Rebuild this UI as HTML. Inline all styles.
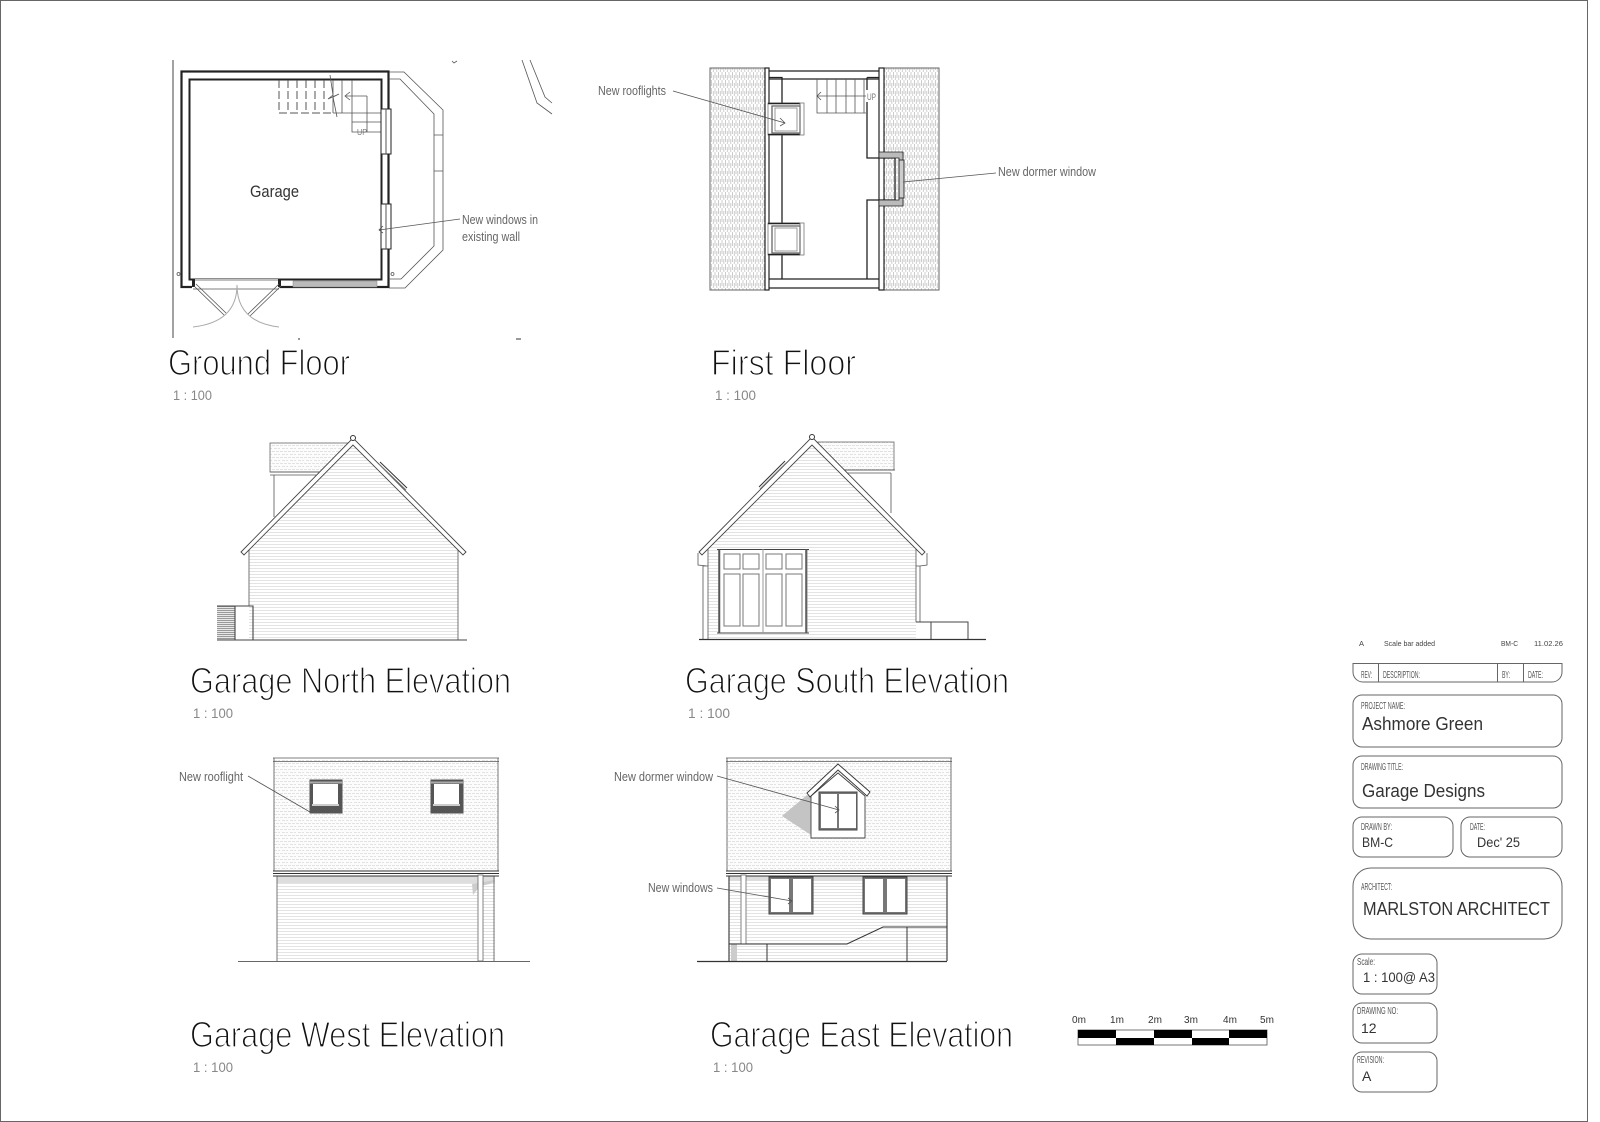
<!DOCTYPE html>
<html><head><meta charset="utf-8"><style>html,body{margin:0;padding:0;background:#fff}svg{display:block}
text{font-family:"Liberation Sans",sans-serif}
.t{font-size:36px;fill:#111;stroke:#fff;stroke-width:1.3px}
.s{font-size:14px;fill:#888}
.n{font-size:13px;fill:#666}
.l{font-size:10px;fill:#555}
.v{font-size:18px;fill:#333}
.c{font-size:14px;fill:#333}
.g{fill:none;stroke:#555;stroke-width:.8}
.b{fill:#fff;stroke:#666;stroke-width:1}
</style></head><body>
<svg xmlns="http://www.w3.org/2000/svg" width="1600" height="1122" viewBox="0 0 1600 1122">
<defs>
<pattern id="sid" width="3" height="3" patternUnits="userSpaceOnUse"><rect width="3" height="3" fill="#fff"/><rect y="1" width="3" height="1" fill="#e3e3e3"/></pattern>
<pattern id="tile" width="8" height="6" patternUnits="userSpaceOnUse"><rect width="8" height="6" fill="#fcfcfc"/><path d="M0 1.500h3M4 1.500h3M2 4.500h3M6 4.500h2" stroke="#e2e2e2" stroke-width="1"/></pattern>
<pattern id="roof" width="3.500" height="8" patternUnits="userSpaceOnUse"><rect width="3.500" height="8" fill="#fff"/><path d="M1 0v6M2.800 3v5" stroke="#c8c8c8" stroke-width=".9"/></pattern>
<pattern id="hat" width="3" height="2" patternUnits="userSpaceOnUse"><rect width="3" height="2" fill="#e8e8e8"/><rect width="3" height="1" fill="#999"/></pattern>
</defs>
<rect width="1600" height="1122" fill="#fff"/>
<path d="M.5 1122V.5H1587.500V1121.500H0" fill="none" stroke="#666" stroke-width="1"/>

<!-- GROUND FLOOR -->
<g>
<path d="M173 60V338" stroke="#444" fill="none"/>
<rect x="181.500" y="71.500" width="207" height="215.500" fill="none" stroke="#222" stroke-width="2.200"/>
<rect x="189.500" y="79.500" width="192" height="200" fill="none" stroke="#222" stroke-width="2"/>
<path d="M389 72H404L443 110V250L405 288H389M389 79H400L434 114V246L401 279H389" class="g" stroke-width="1.100"/>
<path d="M434 135H443M434 171H443" class="g"/>
<path d="M279 80V113H333M288 80V113M297 80V113M306 80V113M315 80V113M324 80V113" fill="none" stroke="#555" stroke-dasharray="8 3"/>
<path d="M333 80V113M342 80V113M352 80V132H381M333 113H381M352 122H381M367 96V132M367 96H345M350 92L345 96L350 100" class="g"/>
<path d="M330 75L333 95L328 99L339 94L333 97L337 117" class="g"/>
<text x="357" y="135" font-size="8" fill="#777" textLength="10" lengthAdjust="spacingAndGlyphs">UP</text>
<rect x="381" y="109" width="10" height="45" fill="#fff" stroke="#222"/><path d="M386 109V154" stroke="#555"/>
<rect x="381" y="204" width="10" height="45" fill="#fff" stroke="#222"/><path d="M386 204V249" stroke="#555"/>
<rect x="192" y="279" width="88" height="10" fill="#fff"/>
<path d="M193 280H279M193 289H279" class="g"/>
<rect x="192" y="279" width="3" height="8" fill="#222"/><rect x="278" y="279" width="3" height="8" fill="#222"/>
<rect x="293" y="281" width="84" height="6" fill="#bbb" stroke="#888" stroke-width=".5"/>
<path d="M194 286L224 315M196 284L226 313M279 284L248 314M281 286L250 316" class="g"/>
<path d="M193 327Q237 322 237 285M279 327Q237 322 237 285" fill="none" stroke="#aaa"/>
<circle cx="178.500" cy="274" r="1.500" class="g"/><circle cx="392.500" cy="274" r="1.500" class="g"/>
<path d="M522 60L537 103L552 114M530 60L545 97L552 103M452 61L454 63L457 61" class="g" stroke-width="1"/>
<path d="M298 339h2M516 339h5" stroke="#333"/>
<text x="250" y="197" font-size="17" fill="#333" textLength="49" lengthAdjust="spacingAndGlyphs">Garage</text>
<text x="462" y="224" class="n" textLength="76" lengthAdjust="spacingAndGlyphs">New windows in</text>
<text x="462" y="241" class="n" textLength="58" lengthAdjust="spacingAndGlyphs">existing wall</text>
<path d="M460 219L379 230M383 226L379 230L383 233" class="g"/>
<text x="168" y="375" class="t" textLength="182" lengthAdjust="spacingAndGlyphs">Ground Floor</text>
<text x="173" y="400" class="s" textLength="39" lengthAdjust="spacingAndGlyphs">1 : 100</text>
</g>

<!-- FIRST FLOOR -->
<g>
<rect x="710" y="68" width="55" height="222" fill="url(#roof)" stroke="#666"/>
<rect x="884" y="68" width="55" height="222" fill="url(#roof)" stroke="#666"/>
<rect x="765" y="68" width="4" height="222" fill="#fff" stroke="#222" stroke-width="1.200"/>
<rect x="879" y="68" width="5" height="222" fill="#fff" stroke="#222" stroke-width="1.200"/>
<path d="M769 71H879M769 79H879M769 279H879M769 288H879" fill="none" stroke="#222" stroke-width="1.300"/>
<path d="M769 77.500H782V279M867 77.500V158H895V200H867V279M867 77.500H879" fill="none" stroke="#222" stroke-width="1.300"/>
<path d="M817 79V113H866M827 79V113M836 79V113M846 79V113M855 79V113M864 79V113M866 96H817M821 92L817 96L821 100" class="g"/>
<rect x="866" y="90" width="11" height="12" fill="#fff"/>
<text x="867" y="100" font-size="9" fill="#777" textLength="9" lengthAdjust="spacingAndGlyphs">UP</text>
<path d="M879 152H903V160H899V158H879ZM879 200H899V198H903V206H879Z" fill="#bbb" stroke="#222" stroke-width=".8"/>
<rect x="899" y="160" width="5" height="38" fill="#ccc" stroke="#333"/>
<g>
<rect x="768" y="103" width="36" height="32" fill="#fff" stroke="#777" stroke-width=".8"/>
<path d="M768 103.500H800M768 134.500H800" stroke="#222" stroke-width="1.500"/>
<rect x="772" y="106" width="28" height="27" fill="none" stroke="#666" stroke-width="1.300"/>
<rect x="775" y="108" width="22" height="23" fill="#fff" stroke="#999"/>
<path d="M800 103V135" stroke="#777"/>
<rect x="768" y="223" width="36" height="32" fill="#fff" stroke="#777" stroke-width=".8"/>
<path d="M768 223.500H800M768 254.500H800" stroke="#222" stroke-width="1.500"/>
<rect x="772" y="226" width="28" height="27" fill="none" stroke="#666" stroke-width="1.300"/>
<rect x="775" y="228" width="22" height="23" fill="#fff" stroke="#999"/>
<path d="M800 223V255" stroke="#777"/>
</g>
<path d="M673 91L785 123M780 118L785 123L780 126" class="g"/>
<path d="M996 173L903 182" class="g"/>
<text x="598" y="95" class="n" textLength="68" lengthAdjust="spacingAndGlyphs">New rooflights</text>
<text x="998" y="176" class="n" textLength="98" lengthAdjust="spacingAndGlyphs">New dormer window</text>
<text x="711" y="375" class="t" textLength="145" lengthAdjust="spacingAndGlyphs">First Floor</text>
<text x="715" y="400" class="s" textLength="41" lengthAdjust="spacingAndGlyphs">1 : 100</text>
</g>

<!-- NORTH -->
<g>
<rect x="270" y="443" width="80" height="29" fill="url(#tile)" stroke="#666" stroke-width=".8"/>
<path d="M270 472H322M270 475H318M274 475V517" class="g" stroke-width="1.100"/>
<path d="M353 443L458 547V640H249V547Z" fill="url(#sid)"/>
<path d="M249 547V606M458 547V640" class="g" stroke-width="1.100"/>
<path d="M241 552L353 438L466 552L463 555L353 445L244 555Z" fill="#fff" stroke="#444" stroke-width=".9"/>
<circle cx="353" cy="438" r="2.500" fill="#fff" stroke="#333"/>
<path d="M380 462L407 488" stroke="#333" stroke-width="1"/><path d="M379 464L406 490" stroke="#777" stroke-width="1"/>
<rect x="217" y="606" width="18" height="34" fill="url(#hat)"/>
<path d="M217 606H253V640M235 606V640M217 640H467" fill="none" stroke="#444" stroke-width="1.100"/>
<text x="190" y="693" class="t" textLength="321" lengthAdjust="spacingAndGlyphs">Garage North Elevation</text>
<text x="193" y="718" class="s" textLength="40" lengthAdjust="spacingAndGlyphs">1 : 100</text>
</g>

<!-- SOUTH -->
<g>
<rect x="818" y="442" width="76" height="28" fill="url(#tile)" stroke="#666" stroke-width=".8"/>
<path d="M845 470H895M847 473H891M891 473V513" class="g" stroke-width="1.100"/>
<path d="M812 443L916 547V639H708V547Z" fill="url(#sid)"/>
<path d="M708 547V639M916 547V622" class="g" stroke-width="1.100"/>
<path d="M699 552L812 437L925 552L922 555L812 445L702 555Z" fill="#fff" stroke="#444" stroke-width=".9"/>
<circle cx="812" cy="437" r="2.500" fill="#fff" stroke="#333"/>
<path d="M785 461L759 487" stroke="#333" stroke-width="1"/><path d="M786 463L760 489" stroke="#777" stroke-width="1"/>
<rect x="718.500" y="549.500" width="88.500" height="83.500" fill="#fff" stroke="#888" stroke-width="1"/>
<path d="M717 549.500H809M717 633H809" stroke="#444" stroke-width="1"/>
<path d="M719.500 549V633M806 549V633" stroke="#555" stroke-width="1.500"/>
<path d="M763 549V633" stroke="#999"/>
<g fill="#fff" stroke="#777">
<rect x="724" y="554" width="16" height="15"/><rect x="743" y="554" width="16" height="15"/><rect x="766" y="554" width="16" height="15"/><rect x="786" y="554" width="16" height="15"/>
<rect x="724" y="574" width="16" height="52"/><rect x="743" y="574" width="16" height="52"/><rect x="766" y="574" width="16" height="52"/><rect x="786" y="574" width="16" height="52"/>
</g>
<path d="M698 553V565L707 566M703 566H708M703 566V639M916 566H920V622M920 566L927 565V553" class="g" stroke-width="1"/>
<path d="M916 622H968V639M931 622V639" fill="none" stroke="#444" stroke-width="1"/>
<path d="M699 639.500H986" stroke="#333" stroke-width="1.200"/>
<text x="685" y="693" class="t" textLength="324" lengthAdjust="spacingAndGlyphs">Garage South Elevation</text>
<text x="688" y="718" class="s" textLength="42" lengthAdjust="spacingAndGlyphs">1 : 100</text>
</g>

<!-- WEST -->
<g>
<rect x="274" y="760" width="224" height="111" fill="url(#tile)"/>
<rect x="277" y="876" width="218" height="85" fill="url(#sid)"/>
<rect x="277" y="876" width="218" height="7" fill="#ddd"/>
<path d="M472 884L495 880L490 884L480 886L473 895Z" fill="#ccc"/>
<path d="M273 758H499M273 761.500H499M274 758V871M498 758V871" class="g" stroke-width="1.200"/>
<path d="M273 871H499M273 873.500H499M273 876H499" stroke="#333" fill="none" stroke-width="1"/>
<path d="M277 876V961M494 876V961" class="g" stroke-width="1.200"/>
<rect x="478" y="875" width="5" height="86" fill="#fff" stroke="#666" stroke-width=".8"/>
<path d="M238 961.500H530" stroke="#666"/>
<g>
<rect x="309.500" y="779.500" width="33" height="34" fill="#555"/><rect x="309" y="781.500" width="34" height="2" fill="#aaa"/><rect x="313" y="784" width="25" height="20" fill="#fff"/><rect x="312" y="804" width="27" height="2" fill="#ccc"/>
<rect x="430.500" y="779.500" width="33" height="34" fill="#555"/><rect x="430" y="781.500" width="34" height="2" fill="#aaa"/><rect x="434" y="784" width="25" height="20" fill="#fff"/><rect x="433" y="804" width="27" height="2" fill="#ccc"/>
</g>
<path d="M248 776L310 812" class="g"/>
<text x="179" y="781" class="n" textLength="64" lengthAdjust="spacingAndGlyphs">New rooflight</text>
<text x="190" y="1047" class="t" textLength="315" lengthAdjust="spacingAndGlyphs">Garage West Elevation</text>
<text x="193" y="1072" class="s" textLength="40" lengthAdjust="spacingAndGlyphs">1 : 100</text>
</g>

<!-- EAST -->
<g>
<rect x="727" y="760" width="224" height="111" fill="url(#tile)"/>
<rect x="729" y="876" width="218" height="85" fill="url(#sid)"/>
<rect x="729" y="876" width="218" height="5" fill="#ddd"/>
<path d="M782 816L807 795L811 797V835Z" fill="#c4c4c4"/>
<path d="M726 758H952M726 761.500H952M727 758V871M951 758V871" class="g" stroke-width="1.200"/>
<path d="M726 871H952M726 873.500H952M726 876H952" stroke="#333" fill="none"/>
<path d="M729 876V961M947 876V961" fill="none" stroke="#444" stroke-width="1.200"/>
<path d="M811 796L838 773L865 796V838H811Z" fill="#fff" stroke="#444" stroke-width=".9"/>
<path d="M807 793L838 764L870 792L867 796L838 770L810 797Z" fill="#fff" stroke="#333" stroke-width=".9"/>
<rect x="819" y="792" width="38" height="38" fill="#777" stroke="#444"/>
<rect x="821" y="794" width="16" height="34" fill="#fff"/><rect x="839" y="794" width="17" height="34" fill="#fff"/>
<g stroke="#444">
<rect x="769" y="877" width="44" height="37" fill="#777"/><rect x="771" y="879" width="18" height="33" fill="#fff" stroke="none"/><rect x="793" y="879" width="18" height="33" fill="#fff" stroke="none"/>
<rect x="863" y="877" width="44" height="37" fill="#777"/><rect x="865" y="879" width="18" height="33" fill="#fff" stroke="none"/><rect x="887" y="879" width="18" height="33" fill="#fff" stroke="none"/>
</g>
<rect x="741" y="875" width="5" height="69" fill="#fff" stroke="#666" stroke-width=".8"/>
<rect x="731" y="944" width="6" height="17" fill="#ccc"/>
<path d="M729 944H847L883 927H947M767 944V961M907 927V961" fill="none" stroke="#333" stroke-width="1"/>
<path d="M697 961.500H947" stroke="#333" stroke-width="1.200"/>
<path d="M717 776L839 810M835 806L839 810L835 813M717 888L792 901M788 898L792 901L788 904" class="g"/>
<text x="614" y="781" class="n" textLength="99" lengthAdjust="spacingAndGlyphs">New dormer window</text>
<text x="648" y="892" class="n" textLength="65" lengthAdjust="spacingAndGlyphs">New windows</text>
<text x="710" y="1047" class="t" textLength="303" lengthAdjust="spacingAndGlyphs">Garage East Elevation</text>
<text x="713" y="1072" class="s" textLength="40" lengthAdjust="spacingAndGlyphs">1 : 100</text>
</g>

<!-- SCALE BAR -->
<g>
<rect x="1078" y="1030" width="189" height="15" fill="#fff" stroke="#555" stroke-width=".8"/>
<path d="M1078 1030h38v8h-38zM1154 1030h38v8h-38zM1229 1030h38v8h-38zM1116 1038h38v7h-38zM1192 1038h37v7h-37z" fill="#000"/>
<g font-size="10" fill="#333" text-anchor="middle"><text x="1079" y="1023">0m</text><text x="1117" y="1023">1m</text><text x="1155" y="1023">2m</text><text x="1191" y="1023">3m</text><text x="1230" y="1023">4m</text><text x="1267" y="1023">5m</text></g>
</g>

<!-- TITLE BLOCK -->
<g>
<g font-size="7.500" fill="#444">
<text x="1359" y="646">A</text><text x="1384" y="646" textLength="51" lengthAdjust="spacingAndGlyphs">Scale bar added</text><text x="1501" y="646" textLength="17" lengthAdjust="spacingAndGlyphs">BM-C</text><text x="1534" y="646" textLength="29" lengthAdjust="spacingAndGlyphs">11.02.26</text>
</g>
<path d="M1353 663.500H1562V672a10 10 0 0 1-10 10H1363a10 10 0 0 1-10-10ZM1378.500 663V682M1497.500 663V682M1523.500 663V682" class="b" fill="#fff"/>
<text x="1361" y="678" class="l" textLength="11" lengthAdjust="spacingAndGlyphs">REV:</text>
<text x="1383" y="678" class="l" textLength="37" lengthAdjust="spacingAndGlyphs">DESCRIPTION:</text>
<text x="1502" y="678" class="l" textLength="8" lengthAdjust="spacingAndGlyphs">BY:</text>
<text x="1528" y="678" class="l" textLength="15" lengthAdjust="spacingAndGlyphs">DATE:</text>

<rect x="1353" y="695" width="209" height="52" rx="9" class="b"/>
<text x="1361" y="709" class="l" textLength="44" lengthAdjust="spacingAndGlyphs">PROJECT NAME:</text>
<text x="1362" y="730" class="v" textLength="121" lengthAdjust="spacingAndGlyphs">Ashmore Green</text>

<rect x="1353" y="756" width="209" height="52" rx="9" class="b"/>
<text x="1361" y="770" class="l" textLength="42" lengthAdjust="spacingAndGlyphs">DRAWING TITLE:</text>
<text x="1362" y="797" class="v" textLength="123" lengthAdjust="spacingAndGlyphs">Garage Designs</text>

<rect x="1353" y="817" width="100" height="40" rx="9" class="b"/>
<text x="1361" y="830" class="l" textLength="31" lengthAdjust="spacingAndGlyphs">DRAWN BY:</text>
<text x="1362" y="847" class="c" textLength="31" lengthAdjust="spacingAndGlyphs">BM-C</text>

<rect x="1461" y="817" width="101" height="40" rx="9" class="b"/>
<text x="1470" y="830" class="l" textLength="15" lengthAdjust="spacingAndGlyphs">DATE:</text>
<text x="1477" y="847" class="c" textLength="43" lengthAdjust="spacingAndGlyphs">Dec' 25</text>

<rect x="1353" y="868" width="209" height="71" rx="18" class="b"/>
<text x="1361" y="890" class="l" textLength="31" lengthAdjust="spacingAndGlyphs">ARCHITECT:</text>
<text x="1363" y="915" class="v" textLength="187" lengthAdjust="spacingAndGlyphs">MARLSTON ARCHITECT</text>

<rect x="1353" y="954" width="84" height="40" rx="9" class="b"/>
<text x="1357" y="965" class="l" textLength="18" lengthAdjust="spacingAndGlyphs">Scale:</text>
<text x="1363" y="982" class="c" textLength="72" lengthAdjust="spacingAndGlyphs">1 : 100@ A3</text>

<rect x="1353" y="1003" width="84" height="40" rx="9" class="b"/>
<text x="1357" y="1014" class="l" textLength="41" lengthAdjust="spacingAndGlyphs">DRAWING NO:</text>
<text x="1361" y="1033" class="c">12</text>

<rect x="1353" y="1052" width="84" height="40" rx="9" class="b"/>
<text x="1357" y="1063" class="l" textLength="27" lengthAdjust="spacingAndGlyphs">REVISION:</text>
<text x="1362" y="1081" class="c">A</text>
</g>
</svg>
</body></html>
